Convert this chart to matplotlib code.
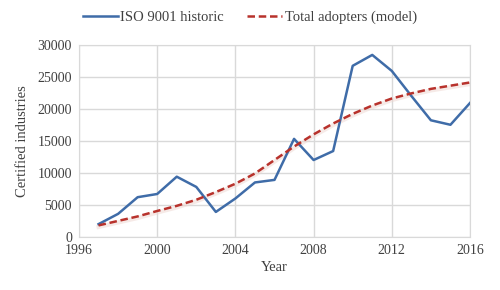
import matplotlib.pyplot as plt

plt.rcParams['font.family'] = ['Liberation Serif', 'DejaVu Serif']

years = list(range(1997, 2017))
historic = [2000, 3600, 6200, 6700, 9400, 7800, 3900, 6000, 8500, 8900,
            15300, 12000, 13400, 26700, 28400, 25900, 22000, 18200, 17500, 20900]
model = [1800, 2500, 3200, 4050, 4850, 5800, 7000, 8300, 9900, 12000,
         14100, 16000, 17700, 19200, 20500, 21600, 22400, 23100, 23600, 24100]

fig = plt.figure(figsize=(5, 2.9), dpi=100)
ax = fig.add_axes([0.158, 0.183, 0.782, 0.663])

# faint shadow under the model line
ax.plot(years, [v - 250 for v in model], color='#eed6d0', lw=3, alpha=0.5, zorder=2)
ax.plot(years, historic, color='#3f6ca8', lw=1.8, label='ISO 9001 historic', zorder=3)
ax.plot(years, model, color='#b8322c', lw=1.8, ls=(0, (3, 1.5)),
        label='Total adopters (model)', zorder=4)

ax.set_xlim(1996, 2016)
ax.set_ylim(0, 30000)
ax.set_xticks(range(1996, 2017, 4))
ax.set_yticks(range(0, 30001, 5000))
ax.grid(True, color='#d9d9d9', lw=1)
ax.set_axisbelow(True)
for s in ax.spines.values():
    s.set_color('#d9d9d9')
ax.tick_params(length=0, labelsize=10, colors='#404040', pad=5)
ax.set_xlabel('Year', fontsize=10.5, color='#404040', labelpad=3)
ax.set_ylabel('Certified industries', fontsize=10.5, color='#404040', labelpad=6)

fig.legend(loc='center', bbox_to_anchor=(0.5, 0.94), ncol=2, frameon=False,
           fontsize=10.5, handlelength=2.4, columnspacing=1.6, handletextpad=0.2,
           labelcolor='#404040')

fig.savefig('out.png', dpi=100)
